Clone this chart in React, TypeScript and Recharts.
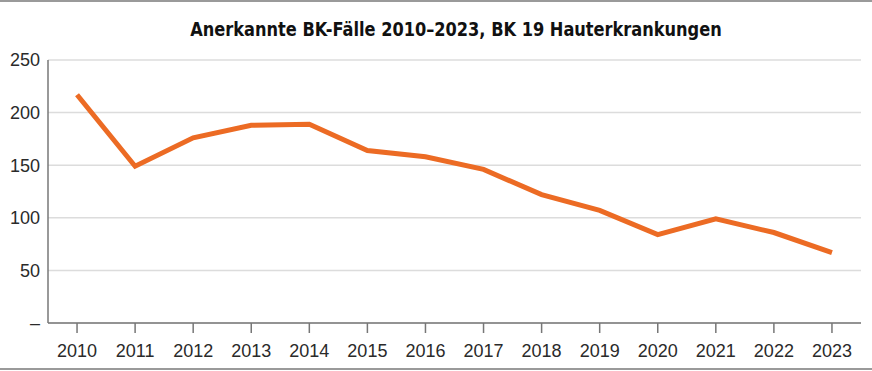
import { LineChart, Line, XAxis, YAxis, CartesianGrid } from "recharts"

const years = ["2010", "2011", "2012", "2013", "2014", "2015", "2016", "2017", "2018", "2019", "2020", "2021", "2022", "2023"]
const cases = [217, 149, 176, 188, 189, 164, 158, 146, 122, 107, 84, 99, 86, 67]
const yTicks = [0, 50, 100, 150, 200, 250]

const data = years.map((year, i) => ({ year, cases: cases[i] }))

const tickStyle = { fontFamily: "'Liberation Sans', Arial, sans-serif", fontSize: 18, fill: "#2a2a2a" }

export default function App() {
  return (
    <div style={{ position: "absolute", left: 0, top: 0, width: 872, height: 371, background: "#fff" }}>
      <div style={{ position: "absolute", left: 0, top: 0, width: 872, height: 2, background: "#9a9a9a" }} />
      <div style={{ position: "absolute", left: 0, top: 368, width: 872, height: 2, background: "#9a9a9a" }} />
      <div
        style={{
          position: "absolute",
          left: 40,
          top: 17,
          width: 832,
          textAlign: "center",
          fontFamily: "'Liberation Sans Narrow', 'DejaVu Sans Condensed', Arial, sans-serif",
          fontWeight: "bold",
          fontSize: 20,
          color: "#111",
          transform: "scaleX(0.9)",
          transformOrigin: "416px 0",
        }}
      >
        Anerkannte BK-Fälle 2010–2023, BK 19 Hauterkrankungen
      </div>
      <LineChart width={872} height={371} data={data} margin={{ top: 60, right: 11, bottom: 8, left: 0 }}>
        <CartesianGrid vertical={false} stroke="#dcdcdc" strokeWidth={1.5} />
        <XAxis
          dataKey="year"
          scale="band"
          height={40}
          axisLine={{ stroke: "#777", strokeWidth: 1.5 }}
          tickLine={{ stroke: "#777", strokeWidth: 1.5 }}
          tickSize={10}
          tickMargin={11}
          tick={tickStyle}
          interval={0}
        />
        <YAxis
          width={48}
          domain={[0, 250]}
          ticks={yTicks}
          tickFormatter={(v) => (v === 0 ? "– " : String(v))}
          axisLine={{ stroke: "#777", strokeWidth: 1.5 }}
          tickLine={false}
          tickSize={0}
          tickMargin={8}
          tick={tickStyle}
        />
        <YAxis
          yAxisId="r"
          orientation="right"
          width={0}
          domain={[0, 250]}
          tick={false}
          tickLine={false}
          axisLine={{ stroke: "#888", strokeWidth: 1.5 }}
        />
        <Line
          dataKey="cases"
          type="linear"
          stroke="#EC6B24"
          strokeWidth={5}
          dot={false}
          activeDot={false}
          isAnimationActive={false}
        />
      </LineChart>
    </div>
  )
}
